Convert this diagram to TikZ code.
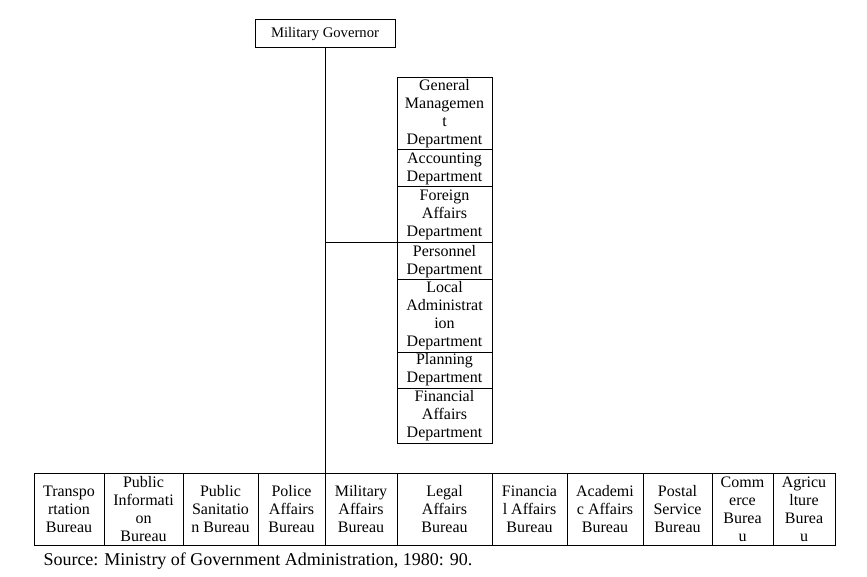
\documentclass[tikz,border=0pt]{standalone}
\usepackage{fontspec}
\setmainfont{Liberation Serif}
\usetikzlibrary{positioning}

\begin{document}
\begin{tikzpicture}[x=0.75pt, y=-0.75pt, line width=0.75pt]
	\tikzset{box/.style={draw, rectangle, inner sep=0pt, outer sep=0pt, align=center, font=\fontsize{12}{13.5}\selectfont}}
	\tikzset{dept/.style={box, minimum width=71.25pt}}
	\tikzset{bureau/.style={box, minimum height=54pt}}
	\useasboundingbox (0,0) rectangle (867,577);

	\node (gov) [box, minimum width=105pt, minimum height=21pt, font=\fontsize{11}{13}\selectfont] at (325,34) {Military Governor};

	% departments
	\node (gen) [dept, minimum height=54pt, anchor=north west] at (397,78) {General\\Managemen\\t\\Department};
	\node (acc) [dept, minimum height=27.75pt, below=0pt of gen] {Accounting\\Department};
	\node (for) [dept, minimum height=42pt, below=0pt of acc] {Foreign\\Affairs\\Department};
	\node (per) [dept, minimum height=27.75pt, below=0pt of for] {Personnel\\Department};
	\node (loc) [dept, minimum height=54pt, below=0pt of per] {Local\\Administrat\\ion\\Department};
	\node (pla) [dept, minimum height=27pt, below=0pt of loc] {Planning\\Department};
	\node (fin) [dept, minimum height=41.25pt, below=0pt of pla] {Financial\\Affairs\\Department};

	% bureaus
	\node (bur1) [bureau, minimum width=52.5pt, anchor=north west] at (34,473) {Transpo\\rtation\\Bureau};
	\node (bur2) [bureau, minimum width=59.25pt, right=0pt of bur1] {Public\\Informati\\on\\Bureau};
	\node (bur3) [bureau, minimum width=56.25pt, right=0pt of bur2] {Public\\Sanitatio\\n Bureau};
	\node (bur4) [bureau, minimum width=50.25pt, right=0pt of bur3] {Police\\Affairs\\Bureau};
	\node (bur5) [bureau, minimum width=54pt, right=0pt of bur4] {Military\\Affairs\\Bureau};
	\node (bur6) [bureau, minimum width=71.25pt, right=0pt of bur5] {Legal\\Affairs\\Bureau};
	\node (bur7) [bureau, minimum width=56.25pt, right=0pt of bur6] {Financia\\l Affairs\\Bureau};
	\node (bur8) [bureau, minimum width=57pt, right=0pt of bur7] {Academi\\c Affairs\\Bureau};
	\node (bur9) [bureau, minimum width=51.75pt, right=0pt of bur8] {Postal\\Service\\Bureau};
	\node (bur10) [bureau, minimum width=45.75pt, right=0pt of bur9] {Comm\\erce\\Burea\\u};
	\node (bur11) [bureau, minimum width=46.5pt, right=0pt of bur10] {Agricu\\lture\\Burea\\u};

	\node (src) [anchor=base west, inner sep=0pt, font=\fontsize{13.5}{15}\selectfont] at (43,565) {Source: Ministry of Government Administration, 1980: 90.};

	\draw (gov.south) -- (bur4.north east);
	\draw (gov.south |- per.north west) -- (per.north west);
\end{tikzpicture}
\end{document}
